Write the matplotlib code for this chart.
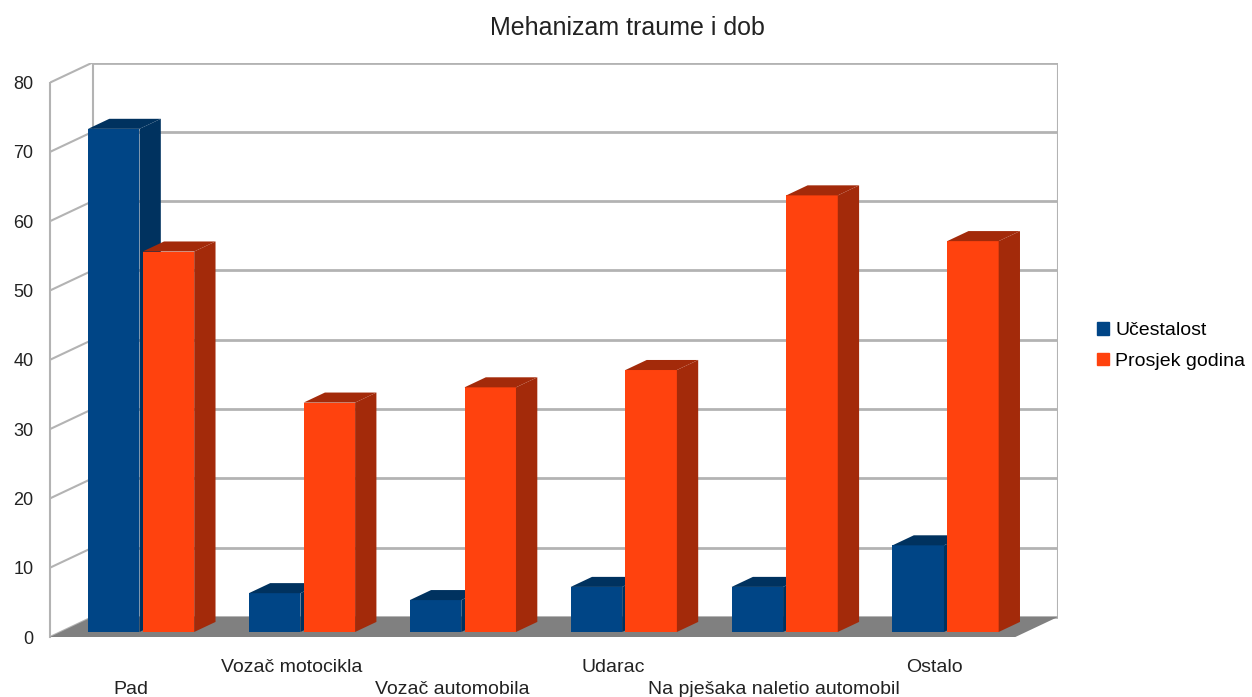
import numpy as np
import matplotlib
matplotlib.use('Agg')
import matplotlib.pyplot as plt
from matplotlib.patches import Polygon, Patch

plt.rcParams['font.family'] = ['Liberation Sans', 'DejaVu Sans']

# podaci sa grafa
kategorije = ['Pad', 'Vozač motocikla', 'Vozač automobila', 'Udarac',
              'Na pješaka naletio automobil', 'Ostalo']
ucestalost = [72.6, 5.6, 4.6, 6.5, 6.5, 12.5]
prosjek_godina = [54.9, 33.1, 35.3, 37.8, 63.0, 56.4]
serije = ['Učestalost', 'Prosjek godina']

# boje (prednja strana, bocna/gornja strana)
boje = [('#004586', '#00325f'), ('#ff420e', '#a32a0a')]

# "3D" pomak dubine u jedinicama podataka
DX, DY = 0.265, 2.9
T0, T1 = 0.25, 0.75      # dubina stupaca (od - do)
sirina = 0.32
ymax = 80

fig = plt.figure(figsize=(12.52, 6.97), dpi=100)
ax = fig.add_axes([50 / 1252, 60 / 697, 1008 / 1252, 574.5 / 697])
n = len(kategorije)
x0, x1 = -0.5, n - 0.5
ax.set_xlim(x0, x1 + DX)
ax.set_ylim(0, ymax + DY)

siva = '#b3b3b3'
# pod
ax.add_patch(Polygon([(x0, 0), (x1, 0), (x1 + DX, DY), (x0 + DX, DY)],
                     closed=True, facecolor='#808080', edgecolor='none', zorder=1))
# straznji zid i mreza
for v in range(0, ymax + 1, 10):
    ax.plot([x0 + DX, x1 + DX], [v + DY, v + DY], color=siva, lw=2, zorder=0.5)
    ax.plot([x0, x0 + DX], [v, v + DY], color=siva, lw=1.5, zorder=0.5)
ax.plot([x1 + DX, x1 + DX], [DY, ymax + DY], color=siva, lw=1.5, zorder=0.5)
ax.plot([x0 + DX, x0 + DX], [DY, ymax + DY], color=siva, lw=1.5, zorder=0.5)
ax.plot([x0, x0], [0, ymax], color=siva, lw=1.5, zorder=0.5, clip_on=False)

dd = T1 - T0
for s, (vals, (cf, cs)) in enumerate(zip([ucestalost, prosjek_godina], boje)):
    for i, v in enumerate(vals):
        xl = i - sirina + s * sirina + T0 * DX + 0.01 * (s * 2 - 1)
        xr = xl + sirina
        b = T0 * DY
        z = 2 + s
        ax.bar(xl, v, width=sirina, bottom=b, align='edge', color=cf,
               edgecolor='none', zorder=z)
        ax.add_patch(Polygon([(xr, b), (xr + dd * DX, b + dd * DY),
                              (xr + dd * DX, b + v + dd * DY), (xr, b + v)],
                             closed=True, facecolor=cs, edgecolor='none', zorder=z))
        ax.add_patch(Polygon([(xl, b + v), (xr, b + v),
                              (xr + dd * DX, b + v + dd * DY), (xl + dd * DX, b + v + dd * DY)],
                             closed=True, facecolor=cs, edgecolor='none', zorder=z))

for sp in ax.spines.values():
    sp.set_visible(False)
ax.set_yticks(range(0, ymax + 1, 10))
ax.tick_params(axis='y', length=0, pad=12, labelsize=13, labelcolor='#222222')
ax.set_xticks(np.arange(n))
ax.set_xticklabels([k if i % 2 else '\n' + k for i, k in enumerate(kategorije)],
                   linespacing=1.35)
ax.tick_params(axis='x', length=0, pad=16, labelsize=14, labelcolor='#222222')

fig.text(627 / 1252, 1 - 28 / 697, 'Mehanizam traume i dob', ha='center',
         va='center', fontsize=18, color='#222222')

ax.legend([Patch(color=boje[0][0]), Patch(color=boje[1][0])], serije,
          loc='center left', bbox_to_anchor=(1097 / 1252, 1 - 346 / 697),
          bbox_transform=fig.transFigure, frameon=False, fontsize=14,
          handlelength=0.6, handleheight=0.6, handletextpad=0.35,
          labelspacing=0.7, borderaxespad=0, borderpad=0)

fig.savefig('out.png', dpi=100)
